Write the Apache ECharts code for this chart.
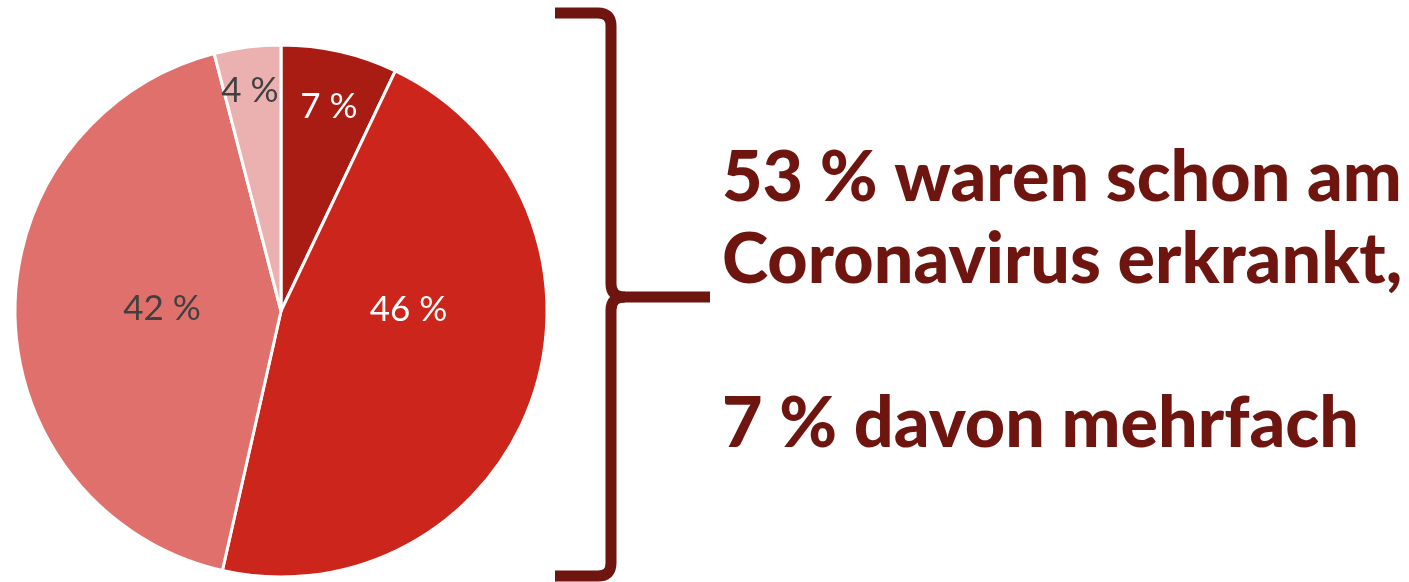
<!DOCTYPE html>
<html><head><meta charset="utf-8">
<script src="https://cdn.jsdelivr.net/npm/echarts@6/dist/echarts.min.js"></script>
<style>html,body{margin:0;padding:0;background:#fff}#c{width:1409px;height:582px}</style>
</head><body><div id="c"></div>
<script>
const categories = ['mehrfach erkrankt', 'einmal erkrankt', 'nicht erkrankt', 'keine Angabe'];
const values = [7, 46, 42, 4];
const sliceColors = ['#A91C14', '#CB251C', '#E0706B', '#EBB1B0'];
const labelColors = ['#ffffff', '#ffffff', '#404040', '#404040'];
const labelShift = [[18, -72], [-1, -46], [17, -4], [-14, -85]];
const textLines = ['53 % waren schon am', 'Coronavirus erkrankt,', '', '7 % davon mehrfach'];

const chart = echarts.init(document.getElementById('c'));
const dark = '#6E1510';
const st = { stroke: dark, lineWidth: 11, fill: null };
function seg(x1, y1, x2, y2) { return { type: 'line', shape: { x1, y1, x2, y2 }, style: st }; }
function curve(x1, y1, cx, cy, x2, y2) { return { type: 'bezierCurve', shape: { x1, y1, x2, y2, cpx1: cx, cpy1: cy }, style: st }; }
chart.setOption({
  animation: false,
  series: [{
    type: 'pie',
    center: [281, 311],
    radius: [0, 266],
    startAngle: 90,
    clockwise: true,
    label: {
      show: true, position: 'inside',
      formatter: p => p.value + ' %',
      fontFamily: 'Lato', fontSize: 35, fontWeight: 'normal'
    },
    labelLine: { show: false },
    labelLayout: p => ({ dx: labelShift[p.dataIndex][0], dy: labelShift[p.dataIndex][1] }),
    itemStyle: { borderColor: '#fff', borderWidth: 3 },
    emphasis: { disabled: true },
    data: categories.map((n, i) => ({
      name: n, value: values[i],
      itemStyle: { color: sliceColors[i] },
      label: { color: labelColors[i] }
    }))
  }],
  graphic: [
    seg(555, 13, 598, 13),
    curve(598, 13, 611, 13, 611, 26),
    seg(611, 26, 611, 284),
    curve(611, 284, 611, 297, 625, 297),
    seg(625, 297, 710, 297),
    curve(625, 297, 611, 297, 611, 310),
    seg(611, 310, 611, 563),
    curve(611, 563, 611, 576, 598, 576),
    seg(598, 576, 555, 576),
    ...textLines.map((t, i) => ({
      type: 'text', left: 722, top: 143 + i * 82,
      style: { text: t, fill: dark, font: '900 70px Lato' }
    }))
  ]
});
</script></body></html>
